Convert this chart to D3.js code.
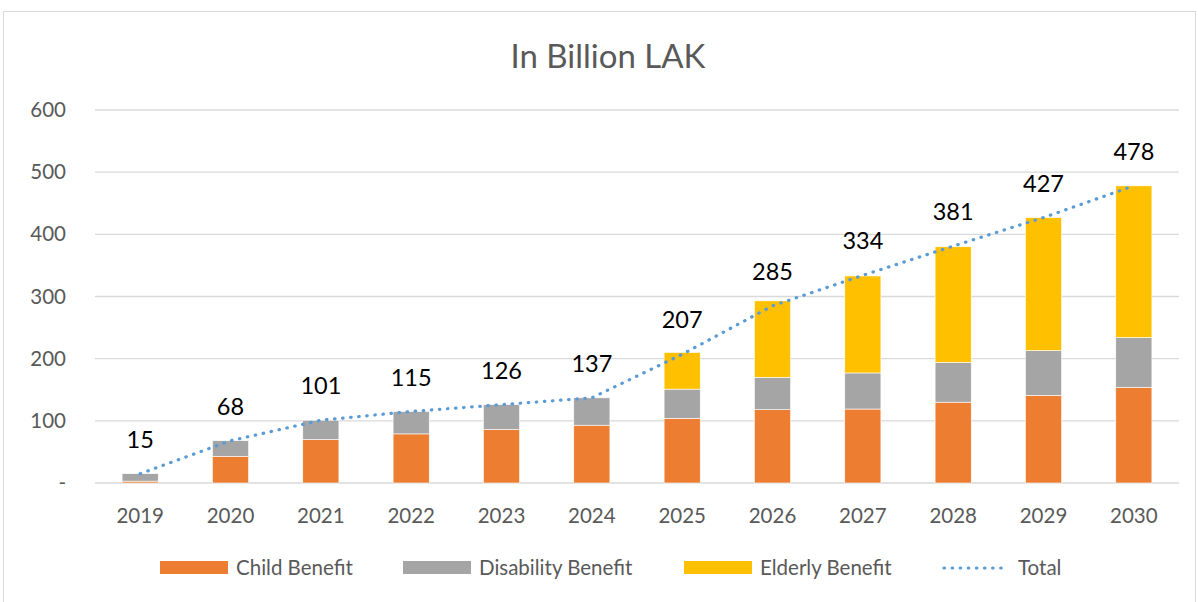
<!DOCTYPE html>
<html>
<head>
<meta charset="utf-8">
<script src="https://cdn.jsdelivr.net/npm/d3@7"></script>
<style>
  body { margin: 0; background: #fff; }
  text { font-family: Lato, "Open Sans", sans-serif; }
</style>
</head>
<body>
<svg id="chart" width="1198" height="602"></svg>
<script>
// values (billion LAK)
const years = ["2019", "2020", "2021", "2022", "2023", "2024", "2025", "2026", "2027", "2028", "2029", "2030"];
const childBenefit = [3, 43, 70, 79, 86, 93, 104, 118, 119, 130, 141, 154];
const disabilityBenefit = [12, 25, 31, 36, 40, 44, 47, 52, 58, 64, 72, 80];
const elderlyBenefit = [0, 0, 0, 0, 0, 0, 59, 123, 156, 186, 214, 244];
const totals = [15, 68, 101, 115, 126, 137, 207, 285, 334, 381, 427, 478];
const yTicks = [0, 100, 200, 300, 400, 500, 600];

const seriesNames = ["Child Benefit", "Disability Benefit", "Elderly Benefit"];
const colors = ["#ed7d31", "#a5a5a5", "#ffc000"];
const lineColor = "#5b9bd5";

var svg = d3.select("#chart");

// outer chart border
svg.append("rect")
    .attr("x", 3.5).attr("y", 11.5)
    .attr("width", 1192).attr("height", 600)
    .attr("fill", "none").attr("stroke", "#d9d9d9");

var margin = { top: 110, left: 95, right: 19, bottom: 119 };
var w = 1198 - margin.left - margin.right,
    h = 602 - margin.top - margin.bottom;

var g = svg.append("g").attr("transform", `translate(${margin.left}, ${margin.top})`);

const x = d3.scaleBand().domain(years).range([0, w]).paddingInner(0.6).paddingOuter(0.3);
const y = d3.scaleLinear().domain([0, 600]).range([h, 0]);

// gridlines
g.selectAll(".grid").data(yTicks).join("line")
    .attr("x1", 0).attr("x2", w)
    .attr("y1", d => y(d)).attr("y2", d => y(d))
    .attr("stroke", "#d9d9d9").attr("stroke-width", 1.3);

// y axis labels
const yAxis = d3.axisLeft(y).tickValues(yTicks).tickSize(0).tickPadding(29)
    .tickFormat(d => d === 0 ? "-" : d);
g.append("g").call(yAxis)
    .call(a => a.select(".domain").remove())
    .selectAll("text")
    .attr("font-size", 20.5).attr("fill", "#595959")
    .style("font-family", "Lato, sans-serif");

// x axis labels
const xAxis = d3.axisBottom(x).tickSize(0).tickPadding(25);
g.append("g").attr("transform", `translate(0, ${h})`).call(xAxis)
    .call(a => a.select(".domain").remove())
    .selectAll("text")
    .attr("font-size", 20.5).attr("fill", "#595959")
    .style("font-family", "Lato, sans-serif");

// stacked bars
const table = years.map((yr, i) => ({
    year: yr,
    "Child Benefit": childBenefit[i],
    "Disability Benefit": disabilityBenefit[i],
    "Elderly Benefit": elderlyBenefit[i]
}));
const stacked = d3.stack().keys(seriesNames)(table);

g.selectAll(".layer").data(stacked).join("g")
    .attr("fill", (d, i) => colors[i])
    .selectAll("rect").data(d => d).join("rect")
    .attr("x", d => x(d.data.year))
    .attr("y", d => y(d[1]))
    .attr("width", x.bandwidth())
    .attr("height", d => y(d[0]) - y(d[1]))
    .attr("stroke", "#fff").attr("stroke-width", 0.6);

// total line (dotted)
const line = d3.line()
    .x((d, i) => x(years[i]) + x.bandwidth() / 2)
    .y(d => y(d));
g.append("path").datum(totals)
    .attr("d", line)
    .attr("fill", "none")
    .attr("stroke", lineColor)
    .attr("stroke-width", 3.2)
    .attr("stroke-linecap", "round")
    .attr("stroke-dasharray", "0.5 7.6");

// data labels
g.selectAll(".lbl").data(totals).join("text")
    .attr("x", (d, i) => x(years[i]) + x.bandwidth() / 2)
    .attr("y", d => y(d) - 26)
    .attr("text-anchor", "middle")
    .attr("font-size", 23.5)
    .attr("fill", "#000")
    .text(d => d);

// title
svg.append("text")
    .attr("x", 608).attr("y", 68)
    .attr("text-anchor", "middle")
    .attr("font-size", 33)
    .attr("fill", "#595959")
    .text("In Billion LAK");

// legend
const legendItems = [
    { name: "Child Benefit", color: colors[0], x: 160, type: "rect" },
    { name: "Disability Benefit", color: colors[1], x: 403, type: "rect" },
    { name: "Elderly Benefit", color: colors[2], x: 684, type: "rect" },
    { name: "Total", color: lineColor, x: 942, type: "line" }
];
const lg = svg.append("g");
legendItems.forEach(item => {
    if (item.type === "rect") {
        lg.append("rect").attr("x", item.x).attr("y", 561)
            .attr("width", 68).attr("height", 13).attr("fill", item.color);
    } else {
        lg.append("line").attr("x1", item.x + 2).attr("x2", item.x + 66)
            .attr("y1", 568).attr("y2", 568)
            .attr("stroke", item.color).attr("stroke-width", 3.2)
            .attr("stroke-linecap", "round").attr("stroke-dasharray", "0.5 7.6");
    }
    lg.append("text").attr("x", item.x + 76).attr("y", 575)
        .attr("font-size", 20.5).attr("fill", "#595959")
        .text(item.name);
});
</script>
</body>
</html>
